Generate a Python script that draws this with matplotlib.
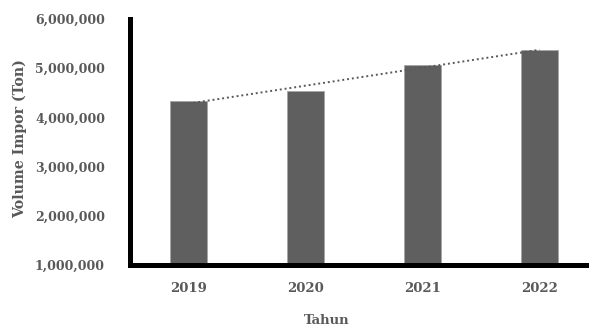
import numpy as np
import matplotlib
matplotlib.use("Agg")
import matplotlib.pyplot as plt
from matplotlib.ticker import FuncFormatter

years = ["2019", "2020", "2021", "2022"]
volume = [4330000, 4540000, 5070000, 5370000]
y_ticks = [1000000, 2000000, 3000000, 4000000, 5000000, 6000000]

text_color = "#595959"
bar_color = "#5f5f5f"
font = "DejaVu Serif"

fig = plt.figure(figsize=(5.89, 3.31), dpi=100)
W, H = 589, 331
ax = fig.add_axes([130 / W, (H - 265) / H, 468 / W, 246 / H])

x = np.arange(len(years))
ax.bar(x, volume, width=0.32, color=bar_color, edgecolor="#a6a6a6", linewidth=0.6, zorder=2)

# linear trend line across the categories
coef = np.polyfit(x, volume, 1)
ax.plot(x, np.polyval(coef, x), linestyle=(0, (1, 1.5)), color="#595959", linewidth=1.4, zorder=3)

ax.set_xlim(-0.5, 3.5)
ax.set_ylim(1000000, 6000000)
ax.set_yticks(y_ticks)
ax.yaxis.set_major_formatter(FuncFormatter(lambda v, p: f"{int(v):,}"))
ax.set_xticks(x)
ax.set_xticklabels(years)

for side in ["top", "right"]:
    ax.spines[side].set_visible(False)
for side in ["left", "bottom"]:
    ax.spines[side].set_linewidth(3.6)
    ax.spines[side].set_color("black")
    ax.spines[side].set_capstyle("projecting")

ax.tick_params(axis="both", length=0, colors=text_color)
ax.tick_params(axis="y", pad=18)
ax.tick_params(axis="x", pad=12)
for lab in ax.get_yticklabels():
    lab.set_fontfamily(font)
    lab.set_fontweight("bold")
    lab.set_fontsize(9)
    lab.set_color(text_color)
for lab in ax.get_xticklabels():
    lab.set_fontfamily(font)
    lab.set_fontweight("bold")
    lab.set_fontsize(9.5)
    lab.set_color(text_color)

fig.text(327 / W, 1 - 321 / H, "Tahun", ha="center", va="center",
         fontfamily=font, fontweight="bold", fontsize=9.5, color=text_color)
fig.text(20 / W, 1 - 139 / H, "Volume Impor (Ton)", ha="center", va="center", rotation=90,
         fontfamily=font, fontweight="bold", fontsize=10.2, color=text_color)

fig.savefig("out.png", dpi=100)
